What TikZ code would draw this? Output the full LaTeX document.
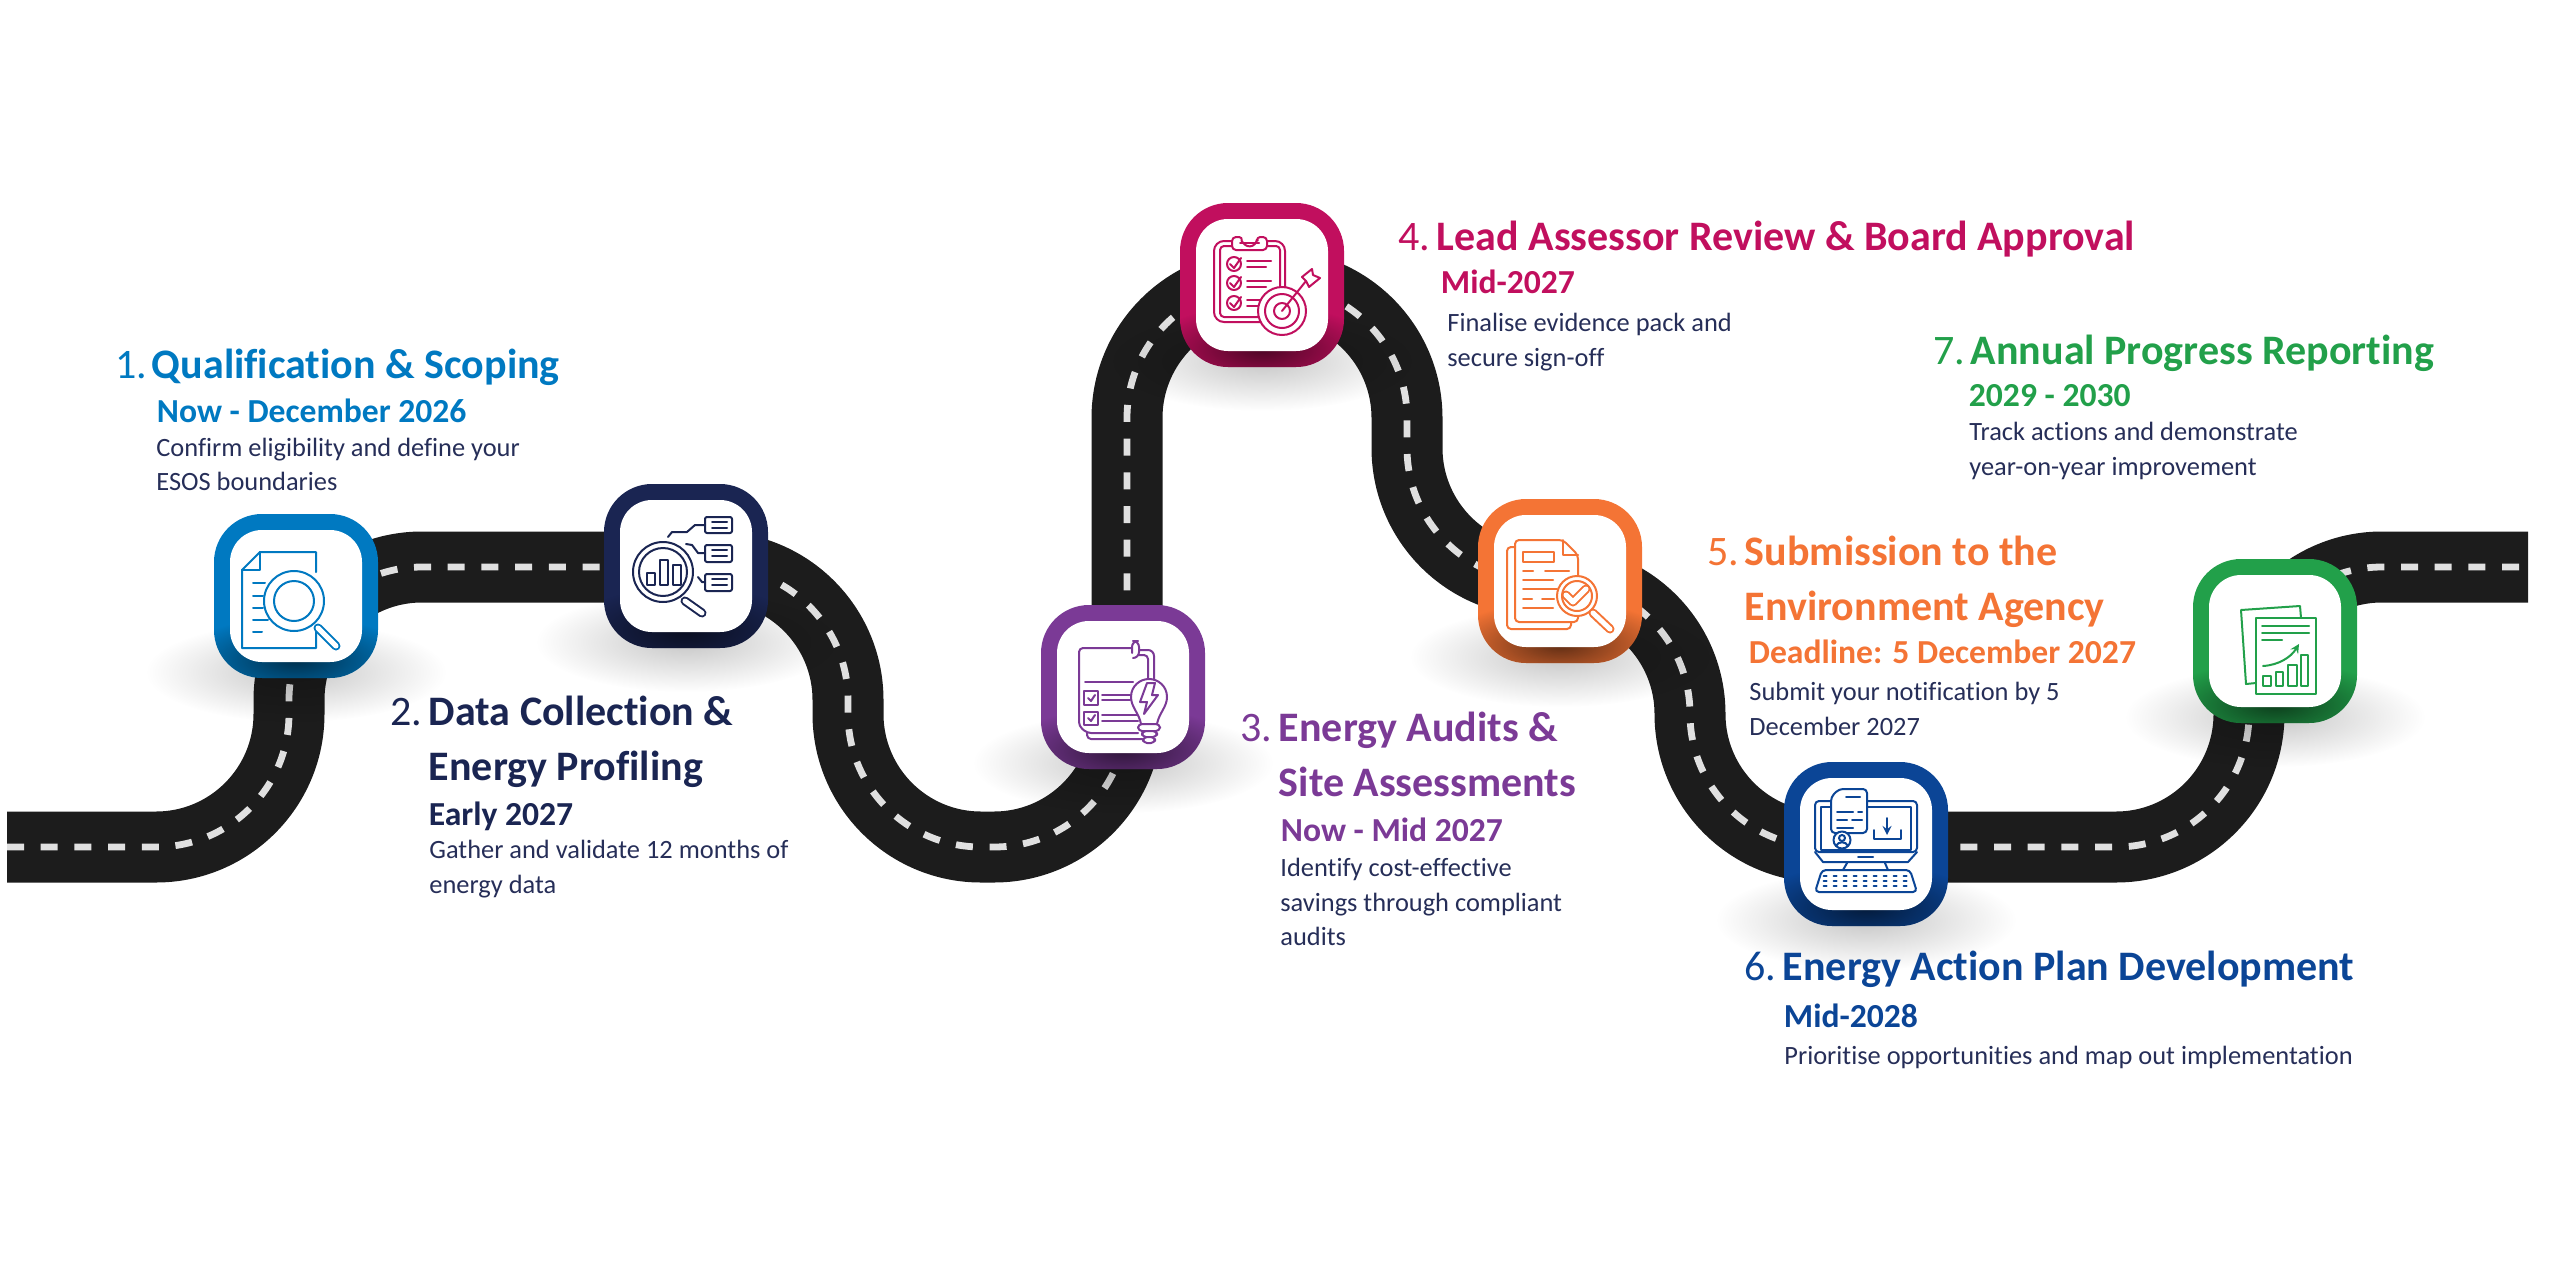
\documentclass[tikz,border=0pt]{standalone}
\usepackage{fontspec}
\setmainfont{Carlito}[Ligatures=NoCommon]
\usepackage{xcolor}
\usetikzlibrary{fadings}
\definecolor{stepone}{HTML}{0079C1}
\definecolor{steptwo}{HTML}{1A2552}
\definecolor{stepthree}{HTML}{7B3A96}
\definecolor{stepfour}{HTML}{C10F5E}
\definecolor{stepfive}{HTML}{F47435}
\definecolor{stepsix}{HTML}{0B4596}
\definecolor{stepseven}{HTML}{22A04A}
\definecolor{bodyink}{HTML}{262E58}
\definecolor{asphalt}{HTML}{1C1C1C}
\definecolor{roadpaint}{HTML}{E0E0E0}
\tikzfading[name=softspot, inner color=transparent!0, outer color=transparent!100]
\tikzset{
  road/.style={line width=35.5pt, rounded corners=66.5pt},
  roadline/.style={line width=3.4pt, rounded corners=66.5pt, dash pattern=on 8.5pt off 8.35pt},
  badge/.style={fill=#1, minimum size=82pt, inner sep=0pt, rounded corners=24pt},
  face/.style={fill=white, minimum size=66pt, inner sep=0pt, rounded corners=16pt},
  stepnum/.style={anchor=base west, inner sep=0pt, xshift=-1.5pt, yshift=-.75pt, text=#1, font=\fontsize{21}{23}\selectfont},
  steptitle/.style={anchor=base west, inner sep=0pt, xshift=-.75pt, yshift=-.75pt, text=#1, font=\fontsize{21}{23}\selectfont\bfseries},
  stepdate/.style={anchor=base west, inner sep=0pt, xshift=-.75pt, yshift=-.5pt, text=#1, font=\fontsize{16.8}{19}\selectfont\bfseries},
  stepbody/.style={anchor=base west, inner sep=0pt, xshift=-.5pt, text=bodyink, font=\fontsize{13.2}{15}\selectfont},
  ic/.style={line width=1pt, line cap=round, line join=round},
  handle/.style={ic, double=white, double distance=2.5pt},
}
\begin{document}
\begin{tikzpicture}[x=.5pt, y=-.5pt]
\useasboundingbox (0,0) rectangle (2560,1280);
% road
\coordinate (r0) at (7,847);
\coordinate (r1) at (289,847);
\coordinate (r2) at (289,567);
\coordinate (r3) at (848,567);
\coordinate (r4) at (848,847);
\coordinate (r5) at (1127,847);
\coordinate (r6) at (1127,285);
\coordinate (r7) at (1407,285);
\coordinate (r8) at (1407,581);
\coordinate (r9) at (1690,581);
\coordinate (r10) at (1690,847);
\coordinate (r11) at (2249,847);
\coordinate (r12) at (2249,567);
\coordinate (r13) at (2528,567);
\draw[road, asphalt] (r0) -- (r1) -- (r2) -- (r3) -- (r4) -- (r5) -- (r6)
-- (r7) -- (r8) -- (r9) -- (r10) -- (r11) -- (r12) -- (r13);
\draw[roadline, roadpaint] (r0) -- (r1) -- (r2) -- (r3) -- (r4) -- (r5) -- (r6)
-- (r7) -- (r8) -- (r9) -- (r10) -- (r11) -- (r12) -- (r13);
% badges
\foreach \i/\x/\y/\col in {1/296/596/stepone, 2/686/566/steptwo, 3/1123/687/stepthree,
  4/1262/285/stepfour, 5/1560/581/stepfive, 6/1866/844/stepsix, 7/2275/641/stepseven}{
  \begin{scope}[shift={(\x,\y)}]
    \fill[black, opacity=.22, path fading=softspot] (0,76) ellipse [x radius=150, y radius=50];
    \node[badge=\col] (b\i) at (0,0) {};
    \begin{scope}
      \clip[rounded corners=24pt] (-82,-82) rectangle (82,82);
      \fill[black, opacity=.6, path fading=softspot] (0,64) ellipse [x radius=115, y radius=44];
    \end{scope}
    \node[face] (f\i) at (0,0) {};
  \end{scope}
}
% icon 1
\begin{scope}[shift={(b1.center)}, color=stepone]
\draw[ic] (20,-24) -- (20,-44) -- (-36,-44) -- (-54,-26) -- (-54,52) -- (20,52) -- (20,36);
\draw[ic] (-36,-44) -- (-36,-26) -- (-54,-26);
\draw[ic] (-43,-13) -- (-31,-13);
\draw[ic] (-43,0) -- (-33,0);
\draw[ic] (-43,12) -- (-33,12);
\draw[ic] (-43,24) -- (-28,24);
\draw[ic] (-43,36) -- (-34,36);
\draw[ic] (-2,5) circle (30);
\draw[ic] (-2,5) circle (20);
\draw[handle] (22,32) -- (40,50);
\end{scope}
% icon 2
\begin{scope}[shift={(b2.center)}, color=steptwo]
\draw[ic, rounded corners=1pt] (19,-49) rectangle (46,-33);
\draw[ic, rounded corners=1pt] (19,-21) rectangle (46,-4);
\draw[ic, rounded corners=1pt] (19,8) rectangle (46,25);
\foreach \yy in {-41,-13,16}{
  \draw[ic] (26,\yy-3) -- (41,\yy-3);
  \draw[ic] (26,\yy+3) -- (41,\yy+3);
}
\draw[ic] (19,-41) -- (9,-41) -- (1,-34) -- (-14,-34) -- (-18,-29);
\draw[ic] (19,-13) -- (12,-13) -- (6,-21) -- (0,-22);
\draw[ic] (19,16) -- (16,16) -- (12,11);
\draw[ic] (-23,6) circle (30);
\draw[ic] (-23,6) circle (24);
\draw[ic] (-39,7) rectangle (-31,19);
\draw[ic] (-26,-6) rectangle (-18,19);
\draw[ic] (-13,-1) rectangle (-5,19);
\draw[handle] (-1,35) -- (16,47);
\end{scope}
% icon 3
\begin{scope}[shift={(b3.center)}, color=stepthree]
\draw[ic, rounded corners=2pt] (8,-39) -- (-44,-39) -- (-44,39) -- (-36,46) -- (15,46);
\draw[ic, rounded corners=2pt] (-36,46) -- (-36,52) -- (19,52);
\draw[ic, rounded corners=3pt] (9,-34) -- (9,-46) -- (16,-46) -- (16,-29) -- (10,-29);
\draw[ic, rounded corners=3pt] (16,-37) -- (31,-37) -- (31,-7);
\draw[ic, rounded corners=2pt] (16,-32) -- (25,-32) -- (25,-7);
\draw[ic] (-38,-5) -- (10,-5);
\draw[ic] (-39,4) rectangle (-25,18);
\draw[ic] (-39,25) rectangle (-25,38);
\draw[ic] (-35,11) -- (-32,14) -- (-28,8);
\draw[ic] (-35,31) -- (-32,34) -- (-28,28);
\draw[ic] (-21,8) -- (7,8);
\draw[ic] (-21,13) -- (7,13);
\draw[ic] (-21,28) -- (15,28);
\draw[ic] (-21,34) -- (15,34);
\draw[ic, fill=white] (18,37) .. controls (16,26) and (8,20) .. (8,10) .. controls (8,-1) and (17,-8) .. (26,-8) .. controls (35,-8) and (44,-1) .. (44,10) .. controls (44,20) and (36,26) .. (34,37) -- cycle;
\draw[ic] (24,-4) -- (17,15) -- (24,15) -- (21,27) -- (35,8) -- (29,8) -- (32,-4) -- cycle;
\draw[ic, fill=white, rounded corners=2pt] (15,37) rectangle (37,44);
\draw[ic, fill=white, rounded corners=2pt] (19,44) rectangle (34,50);
\draw[ic, fill=white, rounded corners=2pt] (20,50) rectangle (32,56);
\end{scope}
% icon 4
\begin{scope}[shift={(b4.center)}, color=stepfour]
\draw[ic, rounded corners=5pt] (-30,-44) -- (-48,-44) -- (-48,37) -- (23,37) -- (23,-44) -- (5,-44);
\draw[ic, rounded corners=2pt] (-30,-39) -- (-42,-39) -- (-42,32) -- (18,32) -- (18,-39) -- (5,-39);
\draw[ic, fill=white, rounded corners=2pt] (-30,-35) -- (-30,-48) -- (-19,-48) arc[start angle=200, end angle=-20, radius=7] -- (5,-48) -- (5,-35) -- cycle;
\draw[ic] (-22,-42) -- (-3,-42);
\foreach \yy in {-21,-2,18}{
  \draw[ic] (-28,\yy) circle (7);
  \draw[ic] (-32,\yy) -- (-28,\yy+4) -- (-21,\yy-6);
}
\draw[ic] (-15,-24) -- (9,-24);
\draw[ic] (-15,-18) -- (4,-18);
\draw[ic] (-15,-4) -- (9,-4);
\draw[ic] (-15,2) -- (4,2);
\draw[ic] (-15,15) -- (-2,15);
\draw[ic] (-15,21) -- (-2,21);
\draw[ic, fill=white] (20,26) circle (24);
\draw[ic] (20,26) circle (17);
\draw[ic] (20,26) circle (8);
\draw[ic] (20,26) -- (44,-4);
\draw[ic, fill=white] (40,-8) -- (50,-16) -- (51,-10) -- (58,-7) -- (47,2) -- (44,-4) -- cycle;
\end{scope}
% icon 5
\begin{scope}[shift={(b5.center)}, color=stepfive]
\draw[ic, rounded corners=2pt] (-45,-34) -- (-53,-34) -- (-53,48) -- (11,48) -- (11,41);
\draw[ic, rounded corners=2pt] (18,-4) -- (18,-26) -- (3,-41) -- (-45,-41) -- (-45,41) -- (18,41) -- (18,36);
\draw[ic] (3,-41) -- (3,-26) -- (18,-26);
\draw[ic] (-37,-29) rectangle (-6,-19);
\draw[ic] (-37,-10) -- (-27,-10);
\draw[ic] (-15,-10) -- (9,-10);
\draw[ic] (-37,-1) -- (-7,-1);
\draw[ic] (-37,8) -- (-3,8);
\draw[ic] (-37,18) -- (-28,18);
\draw[ic] (-18,18) -- (-6,18);
\draw[ic] (-37,27) -- (-7,27);
\draw[ic, fill=white] (17,15) circle (20);
\draw[ic] (17,15) circle (15);
\draw[handle] (6,14) -- (13,21) -- (26,8);
\draw[handle] (33,32) -- (50,48);
\end{scope}
% icon 6
\begin{scope}[shift={(b6.center)}, color=stepsix]
\draw[ic, rounded corners=2pt] (-51,-43) rectangle (51,8);
\draw[ic] (-51,8) -- (-43,18) -- (42,18) -- (51,8);
\draw[ic] (-45,-37) rectangle (45,6);
\draw[ic] (-8,13) -- (7,13);
\draw[ic] (-19,19) -- (-23,26);
\draw[ic] (19,19) -- (22,26);
\draw[ic, rounded corners=2pt] (-44,26) -- (44,26) -- (51,48) -- (-51,48) -- cycle;
\foreach \yy in {32,37,42}{
  \foreach \xx in {-41,-31,...,41}{
    \draw[ic] (\xx-1.5,\yy) -- (\xx+1.5,\yy);
  }
}
\draw[ic, fill=white, rounded corners=2pt] (-27,-55) -- (1,-55) -- (1,-11) -- (-35,-11) -- (-35,-47) -- cycle;
\draw[ic] (-20,-47) -- (-6,-47);
\draw[ic] (-29,-32) -- (-13,-32);
\draw[ic] (-8,-32) -- (-4,-32);
\draw[ic] (-29,-24) -- (-19,-24);
\draw[ic] (-14,-24) -- (-4,-24);
\draw[ic] (-29,-16) -- (-13,-16);
\draw[ic, fill=white] (-24,-4) circle (8.5);
\draw[ic] (-24,-6) circle (3);
\draw[ic] (-30,2) .. controls (-28,-3) and (-20,-3) .. (-18,2);
\draw[ic, ->, >=stealth] (21,-26) -- (21,-9);
\draw[ic] (8,-14) -- (8,-5) -- (35,-5) -- (35,-14);
\end{scope}
% icon 7
\begin{scope}[shift={(b7.center)}, color=stepseven]
\draw[ic] (26,-23) -- (25,-35) -- (-34,-31) -- (-29,43) -- (-19,42);
\draw[ic] (-19,-23) rectangle (41,53);
\draw[ic] (-13,-15) -- (34,-15);
\draw[ic] (-13,-8) -- (34,-8);
\draw[ic] (-13,-1) -- (7,-1);
\draw[ic, ->, >=stealth] (-12,25) .. controls (4,24) and (16,16) .. (24,3);
\draw[ic] (-12,35) rectangle (-4,45);
\draw[ic] (1,31) rectangle (8,45);
\draw[ic] (13,24) rectangle (22,45);
\draw[ic] (26,14) rectangle (33,45);
\end{scope}
% step 1
\node[stepnum=stepone] (n1) at (118,377) {1.};
\node[steptitle=stepone] (t1) at (153,377) {Qualification \& Scoping};
\node[stepdate=stepone] (d1) at (158,421) {Now - December 2026};
\node[stepbody] (l1a) at (157,456) {Confirm eligibility and define your};
\node[stepbody] (l1b) at (157,490) {ESOS boundaries};
% step 2
\node[stepnum=steptwo] (n2) at (393,724) {2.};
\node[steptitle=steptwo] (t2a) at (430,724) {Data Collection \&};
\node[steptitle=steptwo] (t2b) at (430,779) {Energy Profiling};
\node[stepdate=steptwo] (d2) at (430,824) {Early 2027};
\node[stepbody] (l2a) at (430,858) {Gather and validate 12 months of};
\node[stepbody] (l2b) at (430,893) {energy data};
% step 3
\node[stepnum=stepthree] (n3) at (1243,740) {3.};
\node[steptitle=stepthree] (t3a) at (1280,740) {Energy Audits \&};
\node[steptitle=stepthree] (t3b) at (1280,795) {Site Assessments};
\node[stepdate=stepthree] (d3) at (1282,840) {Now - Mid 2027};
\node[stepbody] (l3a) at (1281,876) {Identify cost-effective};
\node[stepbody] (l3b) at (1281,911) {savings through compliant};
\node[stepbody] (l3c) at (1281,945) {audits};
% step 4
\node[stepnum=stepfour] (n4) at (1401,249) {4.};
\node[steptitle=stepfour] (t4) at (1438,249) {Lead Assessor Review \& Board Approval};
\node[stepdate=stepfour] (d4) at (1442,292) {Mid-2027};
\node[stepbody] (l4a) at (1448,331) {Finalise evidence pack and};
\node[stepbody] (l4b) at (1448,366) {secure sign-off};
% step 5
\node[stepnum=stepfive] (n5) at (1710,564) {5.};
\node[steptitle=stepfive] (t5a) at (1746,564) {Submission to the};
\node[steptitle=stepfive] (t5b) at (1746,619) {Environment Agency};
\node[stepdate=stepfive] (d5) at (1750,662) {Deadline: 5 December 2027};
\node[stepbody] (l5a) at (1750,700) {Submit your notification by 5};
\node[stepbody] (l5b) at (1750,735) {December 2027};
% step 6
\node[stepnum=stepsix] (n6) at (1747,979) {6.};
\node[steptitle=stepsix] (t6) at (1784,979) {Energy Action Plan Development};
\node[stepdate=stepsix] (d6) at (1785,1026) {Mid-2028};
\node[stepbody] (l6a) at (1785,1064) {Prioritise opportunities and map out implementation};
% step 7
\node[stepnum=stepseven] (n7) at (1936,363) {7.};
\node[steptitle=stepseven] (t7) at (1972,363) {Annual Progress Reporting};
\node[stepdate=stepseven] (d7) at (1970,405) {2029 - 2030};
\node[stepbody] (l7a) at (1970,440) {Track actions and demonstrate};
\node[stepbody] (l7b) at (1970,475) {year-on-year improvement};
\end{tikzpicture}
\end{document}
